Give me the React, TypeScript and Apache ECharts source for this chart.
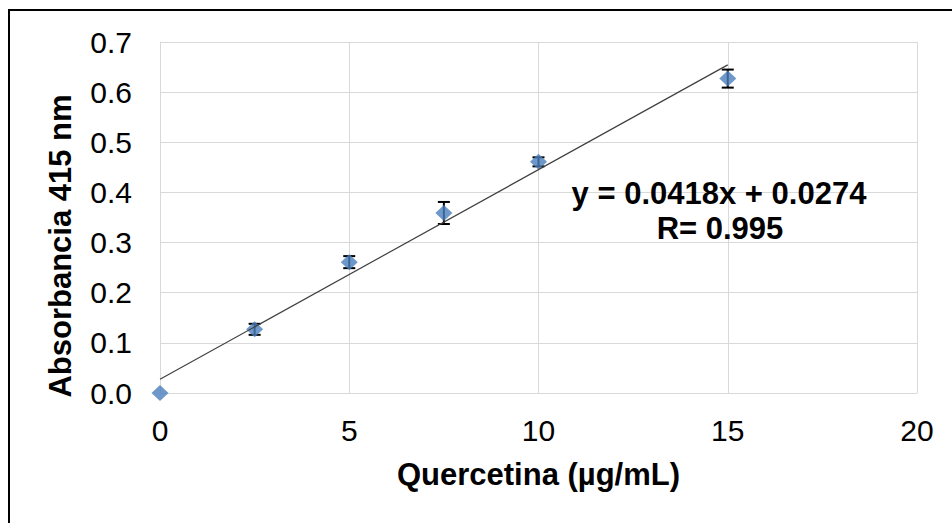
import React, { useEffect, useRef } from "react";
import * as echarts from "echarts";

const concentrations = [0, 2.5, 5, 7.5, 10, 15];
const absorbance = [0.0, 0.127, 0.261, 0.359, 0.461, 0.627];
const errors = [0, 0.011, 0.012, 0.022, 0.009, 0.018];
const xTicks = { min: 0, max: 20, interval: 5 };
const yTicks = { min: 0, max: 0.7, interval: 0.1 };
const slope = 0.0418;
const intercept = 0.0274;
const trendRange = [0, 15];
const equationText = "y = 0.0418x + 0.0274";
const rText = "R= 0.995";

const FONT = "'Liberation Sans', Arial, sans-serif";

export default function App() {
  const ref = useRef<HTMLDivElement>(null);
  useEffect(() => {
    if (!ref.current) return;
    const chart = echarts.init(ref.current, undefined, { renderer: "svg" });
    const points = concentrations.map((x, i) => [x, absorbance[i]]);
    const errData = concentrations.map((x, i) => [x, absorbance[i], errors[i]]);
    const trend = trendRange.map((x) => [x, slope * x + intercept]);
    const axisGray = "#d9d9d9";
    chart.setOption({
      animation: false,
      backgroundColor: "#ffffff",
      grid: { left: 160, right: 35, top: 42, bottom: 130 },
      xAxis: {
        type: "value",
        min: xTicks.min,
        max: xTicks.max,
        interval: xTicks.interval,
        name: "Quercetina (µg/mL)",
        nameLocation: "middle",
        nameGap: 66,
        nameTextStyle: { fontFamily: FONT, fontSize: 31, fontWeight: "bold", color: "#000" },
        axisLine: { show: true, lineStyle: { color: axisGray, width: 1 } },
        axisTick: { show: false },
        splitLine: { show: true, lineStyle: { color: axisGray, width: 1 } },
        axisLabel: { fontFamily: FONT, fontSize: 30, color: "#000", margin: 22 },
      },
      yAxis: {
        type: "value",
        min: yTicks.min,
        max: yTicks.max,
        interval: yTicks.interval,
        name: "Absorbancia 415 nm",
        nameLocation: "middle",
        nameGap: 84,
        nameRotate: 90,
        nameTextStyle: {
          fontFamily: FONT,
          fontSize: 31,
          fontWeight: "bold",
          color: "#000",
          padding: [0, 57, 0, 0],
        },
        axisLine: { show: true, lineStyle: { color: axisGray, width: 1 } },
        axisTick: { show: false },
        splitLine: { show: true, lineStyle: { color: axisGray, width: 1 } },
        axisLabel: {
          fontFamily: FONT,
          fontSize: 30,
          color: "#000",
          margin: 28,
          formatter: (v: number) => v.toFixed(1),
        },
      },
      graphic: [
        {
          type: "rect",
          shape: { x: 9, y: 10, width: 980, height: 560 },
          style: { fill: "none", stroke: "#000", lineWidth: 2 },
          z: 100,
        },
        {
          type: "text",
          x: 719,
          y: 193,
          style: {
            text: equationText,
            fontFamily: FONT,
            fontSize: 31,
            fontWeight: "bold",
            fill: "#000",
            align: "center",
            verticalAlign: "middle",
          },
          z: 100,
        },
        {
          type: "text",
          x: 720,
          y: 228,
          style: {
            text: rText,
            fontFamily: FONT,
            fontSize: 31,
            fontWeight: "bold",
            fill: "#000",
            align: "center",
            verticalAlign: "middle",
          },
          z: 100,
        },
      ],
      series: [
        {
          type: "custom",
          data: errData,
          encode: { x: 0, y: 1 },
          z: 2,
          renderItem: (params: any, api: any) => {
            const x = api.value(0);
            const y = api.value(1);
            const e = api.value(2);
            if (!e) return { type: "group", children: [] };
            const top = api.coord([x, y + e]);
            const bot = api.coord([x, y - e]);
            const hw = 6;
            const st = { stroke: "#000", lineWidth: 2 };
            return {
              type: "group",
              children: [
                { type: "line", shape: { x1: top[0], y1: top[1], x2: bot[0], y2: bot[1] }, style: st },
                { type: "line", shape: { x1: top[0] - hw, y1: top[1], x2: top[0] + hw, y2: top[1] }, style: st },
                { type: "line", shape: { x1: bot[0] - hw, y1: bot[1], x2: bot[0] + hw, y2: bot[1] }, style: st },
              ],
            };
          },
        },
        {
          type: "scatter",
          data: points,
          symbol: "diamond",
          symbolSize: [17, 16],
          itemStyle: { color: "#4A7EBB" },
          z: 3,
        },
        {
          type: "line",
          data: trend,
          showSymbol: false,
          symbol: "none",
          lineStyle: { color: "#404040", width: 1.2 },
          z: 4,
        },
      ],
    });
    return () => chart.dispose();
  }, []);
  return (
    <div
      ref={ref}
      style={{ position: "fixed", left: 0, top: 0, width: 952, height: 523, background: "#fff" }}
    />
  );
}
